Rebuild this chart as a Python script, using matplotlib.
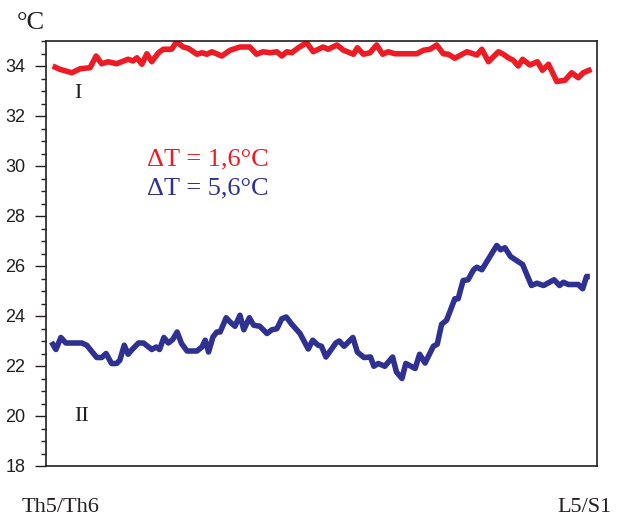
import matplotlib
matplotlib.use("Agg")
import matplotlib.pyplot as plt
from matplotlib.ticker import MultipleLocator

# Temperature records along the segment (position in % of the span, value in °C)
red_pos = [1.2, 2.5, 4.7, 6.2, 8.0, 9.1, 10.1, 11.3, 12.8, 14.9, 15.8, 16.5, 17.4, 18.3,
           19.2, 20.4, 21.3, 22.8, 23.7, 24.9, 25.8, 27.4, 28.3, 29.2, 30.1, 31.9, 33.4,
           35.2, 37.0, 38.2, 39.4, 40.7, 41.9, 42.8, 43.7, 44.6, 45.8, 47.3, 48.5, 50.3,
           51.2, 52.8, 54.0, 55.8, 56.5, 57.6, 58.8, 60.0, 61.1, 62.1, 63.3, 67.3, 68.5,
           69.7, 70.9, 72.1, 73.0, 74.2, 75.7, 76.4, 78.2, 79.1, 80.3, 82.1, 83.0, 83.9,
           84.8, 85.7, 86.5, 87.8, 89.2, 90.1, 91.2, 92.7, 94.2, 95.4, 96.6, 97.5, 99.0]
red_temp = [34.00, 33.87, 33.73, 33.89, 33.93, 34.40, 34.09, 34.17, 34.09, 34.27, 34.20,
            34.33, 34.07, 34.49, 34.17, 34.53, 34.67, 34.67, 34.97, 34.76, 34.71, 34.47,
            34.53, 34.47, 34.57, 34.40, 34.63, 34.76, 34.76, 34.47, 34.57, 34.53, 34.57,
            34.40, 34.57, 34.53, 34.73, 34.93, 34.57, 34.76, 34.67, 34.84, 34.63, 34.47,
            34.73, 34.47, 34.53, 34.84, 34.47, 34.57, 34.49, 34.49, 34.63, 34.67, 34.84,
            34.49, 34.47, 34.31, 34.49, 34.57, 34.44, 34.67, 34.17, 34.57, 34.47, 34.33,
            34.23, 34.00, 34.27, 34.04, 34.17, 33.83, 34.07, 33.38, 33.43, 33.73, 33.53,
            33.73, 33.87]

blue_pos = [1.0, 1.8, 2.7, 3.6, 6.5, 7.4, 9.2, 10.1, 10.9, 11.9, 12.8, 13.4, 14.2, 14.9,
            15.8, 16.8, 17.7, 19.2, 20.0, 20.6, 21.4, 22.2, 23.0, 23.8, 24.6, 25.6, 27.4,
            28.3, 28.9, 29.5, 30.3, 31.0, 31.6, 32.7, 33.4, 34.3, 35.2, 35.9, 36.9, 37.7,
            38.8, 40.1, 41.0, 41.9, 42.8, 43.6, 44.6, 45.5, 46.1, 47.6, 48.4, 49.4, 50.0,
            50.8, 52.6, 53.2, 54.1, 55.7, 56.5, 57.7, 58.9, 59.5, 60.3, 61.5, 62.9, 63.6,
            64.6, 65.3, 67.0, 67.8, 68.8, 70.3, 71.0, 71.8, 72.7, 74.2, 74.8, 75.7, 76.6,
            77.6, 78.2, 79.1, 81.8, 82.5, 83.3, 84.3, 86.5, 88.1, 89.1, 90.3, 92.2, 93.2,
            93.9, 94.8, 96.6, 97.4, 98.1, 98.7]
blue_temp = [22.96, 22.66, 23.14, 22.92, 22.92, 22.83, 22.34, 22.34, 22.50, 22.10, 22.10,
             22.23, 22.83, 22.47, 22.70, 22.92, 22.92, 22.66, 22.76, 22.66, 23.14, 22.92,
             23.06, 23.36, 22.90, 22.60, 22.60, 22.76, 23.03, 22.56, 23.16, 23.36, 23.36,
             23.93, 23.76, 23.59, 24.03, 23.45, 23.93, 23.63, 23.59, 23.30, 23.45, 23.49,
             23.89, 23.96, 23.67, 23.45, 23.30, 22.68, 23.03, 22.83, 22.79, 22.36, 22.92,
             23.00, 22.79, 23.14, 22.56, 22.34, 22.36, 21.99, 22.10, 21.99, 22.36, 21.76,
             21.50, 22.10, 21.90, 22.47, 22.12, 22.79, 22.87, 23.67, 23.83, 24.69, 24.69,
             25.42, 25.45, 25.85, 25.95, 25.85, 26.82, 26.65, 26.73, 26.38, 26.06, 25.22,
             25.31, 25.22, 25.45, 25.22, 25.35, 25.26, 25.26, 25.09, 25.58, 25.58]

RED = "#ED1C24"
BLUE = "#2E3192"
INK = "#231F20"

fig = plt.figure(figsize=(6.18, 5.18), dpi=100)
ax = fig.add_axes([46 / 618, 1 - 466 / 518, 551 / 618, 425 / 518])

ax.plot(red_pos, red_temp, color=RED, lw=4.0, solid_joinstyle="round", solid_capstyle="butt")
ax.plot(blue_pos, blue_temp, color=BLUE, lw=4.0, solid_joinstyle="round", solid_capstyle="butt")

ax.set_xlim(0, 100)
ax.set_ylim(18, 35)
ax.yaxis.set_major_locator(MultipleLocator(2))
ax.yaxis.set_minor_locator(MultipleLocator(0.5))
ax.set_xticks([])
ax.tick_params(axis="y", which="major", direction="out", length=8, width=1.0,
               color=INK, pad=7, labelsize=13, labelcolor=INK)
ax.tick_params(axis="y", which="minor", direction="out", length=3.6, width=1.0, color=INK)
for lab in ax.get_yticklabels():
    lab.set_fontfamily("Liberation Sans")
for sp in ax.spines.values():
    sp.set_color(INK)
    sp.set_linewidth(1.2)

serif = "Liberation Serif"
ax.text(0.058, 0.866, "I", transform=ax.transAxes, ha="center", va="baseline",
        fontsize=16, family=serif, color=INK)
ax.text(0.065, 0.107, "II", transform=ax.transAxes, ha="center", va="baseline",
        fontsize=16, family=serif, color=INK)
ax.text(0.183, 0.708, "ΔT = 1,6°C", transform=ax.transAxes, ha="left", va="baseline",
        fontsize=19, family=serif, color=RED)
ax.text(0.183, 0.640, "ΔT = 5,6°C", transform=ax.transAxes, ha="left", va="baseline",
        fontsize=19, family=serif, color=BLUE)

fig.text(17 / 618, 1 - 29 / 518, "°C", ha="left", va="baseline",
         fontsize=19, family=serif, color=INK)
fig.text(22 / 618, 1 - 512 / 518, "Th5/Th6", ha="left", va="baseline",
         fontsize=16, family=serif, color=INK)
fig.text(612 / 618, 1 - 512 / 518, "L5/S1", ha="right", va="baseline",
         fontsize=16, family=serif, color=INK)

fig.savefig("out.png", dpi=100, facecolor="white")
